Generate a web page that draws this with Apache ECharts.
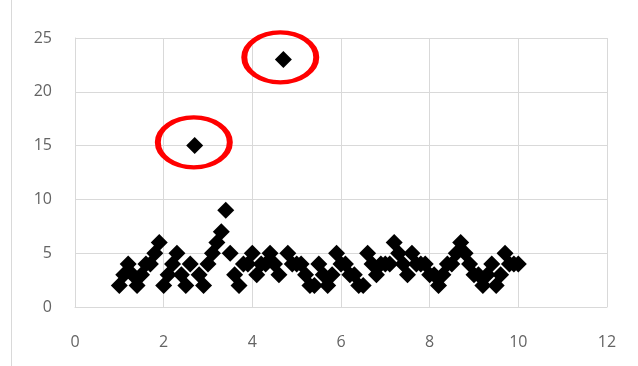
<!DOCTYPE html>
<html>
<head>
<meta charset="utf-8">
<script src="https://cdn.jsdelivr.net/npm/echarts@6/dist/echarts.min.js"></script>
<style>html,body{margin:0;padding:0;background:#fff}#c{width:638px;height:366px}</style>
</head>
<body>
<div id="c"></div>
<script>
var xValues = [1.0,1.1,1.2,1.3,1.4,1.5,1.6,1.7,1.8,1.9,2.0,2.1,2.2,2.3,2.4,2.5,2.6,2.7,2.8,2.9,3.0,3.1,3.2,3.3,3.4,3.5,3.6,3.7,3.8,3.9,4.0,4.1,4.2,4.3,4.4,4.5,4.6,4.7,4.8,4.9,5.0,5.1,5.2,5.3,5.4,5.5,5.6,5.7,5.8,5.9,6.0,6.1,6.2,6.3,6.4,6.5,6.6,6.7,6.8,6.9,7.0,7.1,7.2,7.3,7.4,7.5,7.6,7.7,7.8,7.9,8.0,8.1,8.2,8.3,8.4,8.5,8.6,8.7,8.8,8.9,9.0,9.1,9.2,9.3,9.4,9.5,9.6,9.7,9.8,9.9,10.0];
var yValues = [2,3,4,3,2,3,4,4,5,6,2,3,4,5,3,2,4,15,3,2,4,5,6,7,9,5,3,2,4,4,5,3,4,4,5,4,3,23,5,4,4,4,3,2,2,4,3,2,3,5,4,4,3,3,2,2,5,4,3,4,4,4,6,5,4,3,5,4,4,4,3,3,2,3,4,4,5,6,5,4,3,3,2,3,4,2,3,5,4,4,4];
var outlierMarks = [[2.68,15.3],[4.63,23.2]];
var xTicks = [0,2,4,6,8,10,12];
var yTicks = [0,5,10,15,20,25];

var pts = xValues.map(function(x,i){return [x,yValues[i]];});
var chart = echarts.init(document.getElementById('c'), null, {renderer:'canvas'});
var gridColor = '#d9d9d9';
chart.setOption({
  animation:false,
  backgroundColor:'#fff',
  grid:{left:75,right:31,top:38,bottom:59},
  xAxis:{type:'value',min:xTicks[0],max:xTicks[xTicks.length-1],interval:2,
    axisLine:{show:true,lineStyle:{color:gridColor}},axisTick:{show:false},
    splitLine:{show:true,lineStyle:{color:gridColor,width:1}},
    axisLabel:{color:'#646464',fontSize:16,fontFamily:'Open Sans',margin:27}},
  yAxis:{type:'value',min:yTicks[0],max:yTicks[yTicks.length-1],interval:5,
    axisLine:{show:true,lineStyle:{color:gridColor}},axisTick:{show:false},
    splitLine:{show:true,lineStyle:{color:gridColor,width:1}},
    axisLabel:{color:'#646464',fontSize:16,fontFamily:'Open Sans',margin:23}},
  graphic:[{type:'line',shape:{x1:11.5,y1:0,x2:11.5,y2:366},style:{stroke:gridColor,lineWidth:1},silent:true}],
  series:[
    {type:'scatter',data:pts,symbol:'diamond',symbolSize:17,itemStyle:{color:'#000',opacity:1},z:3},
    {type:'scatter',data:outlierMarks,symbol:'circle',symbolSize:[72,50],
     itemStyle:{color:'rgba(0,0,0,0)',borderColor:'#f00',borderWidth:5,opacity:1},z:4,silent:true}
  ]
});
</script>
</body>
</html>
